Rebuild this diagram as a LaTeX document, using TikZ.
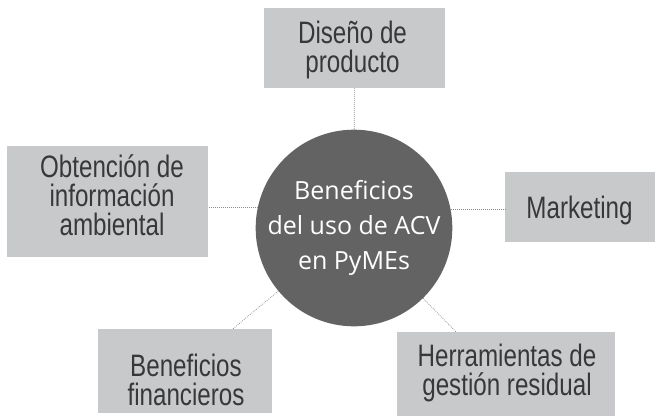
\documentclass[tikz,border=0pt]{standalone}
\usepackage{fontspec}
\newfontfamily\condfont[FakeStretch=0.78]{Liberation Sans}
\newfontfamily\circfont{Open Sans}
\definecolor{boxgray}{HTML}{C8C9CB}
\definecolor{boxtext}{HTML}{383838}
\definecolor{circgray}{HTML}{636363}
\definecolor{linegray}{HTML}{8A8A8A}
\tikzset{
  topic/.style={fill=boxgray, inner sep=0pt},
  topictext/.style={inner sep=0pt, text=boxtext, align=center, anchor=base,
    font=\condfont\fontsize{31}{29}\selectfont},
  hub/.style={circle, fill=circgray, inner sep=0pt, minimum size=190pt, text=white,
    align=center, font=\circfont\fontsize{25}{35}\selectfont},
  conn/.style={draw=linegray, line width=0.7pt, dash pattern=on 0.8pt off 1.2pt}
}
\begin{document}
\begin{tikzpicture}[x=1pt,y=-1pt]
\useasboundingbox (0,0) rectangle (657,416);
\node[hub] (c) at (354,228) {Beneficios\\del uso de ACV\\en PyMEs};
\node[topic, minimum width=181pt, minimum height=80pt] (top) at (354.5,48) {};
\node[topic, minimum width=201pt, minimum height=111pt] (left) at (107.5,201.5) {};
\node[topic, minimum width=150pt, minimum height=70pt] (right) at (580,207) {};
\node[topic, minimum width=174pt, minimum height=84pt] (bl) at (185,371) {};
\node[topic, minimum width=218pt, minimum height=84pt] (br) at (506,374) {};
\node[topictext] (topT) at (352.5,72) {Diseño de\\producto};
\node[topictext] (leftT) at (112,235) {Obtención de\\información\\ambiental};
\node[topictext] (rightT) at (579.5,218) {Marketing};
\node[topictext] (blT) at (186,405) {Beneficios\\financieros};
\node[topictext] (brT) at (507,395) {Herramientas de\\gestión residual};
\draw[conn] (top) -- (c);
\draw[conn] (c.168.5) -- (c.168.5 -| left.east);
\draw[conn] (c.11.5) -- (c.11.5 -| right.west);
\draw[conn] (c) -- ([xshift=48pt]bl.north);
\draw[conn] (c) -- ([xshift=-50pt]br.north);
\end{tikzpicture}
\end{document}
